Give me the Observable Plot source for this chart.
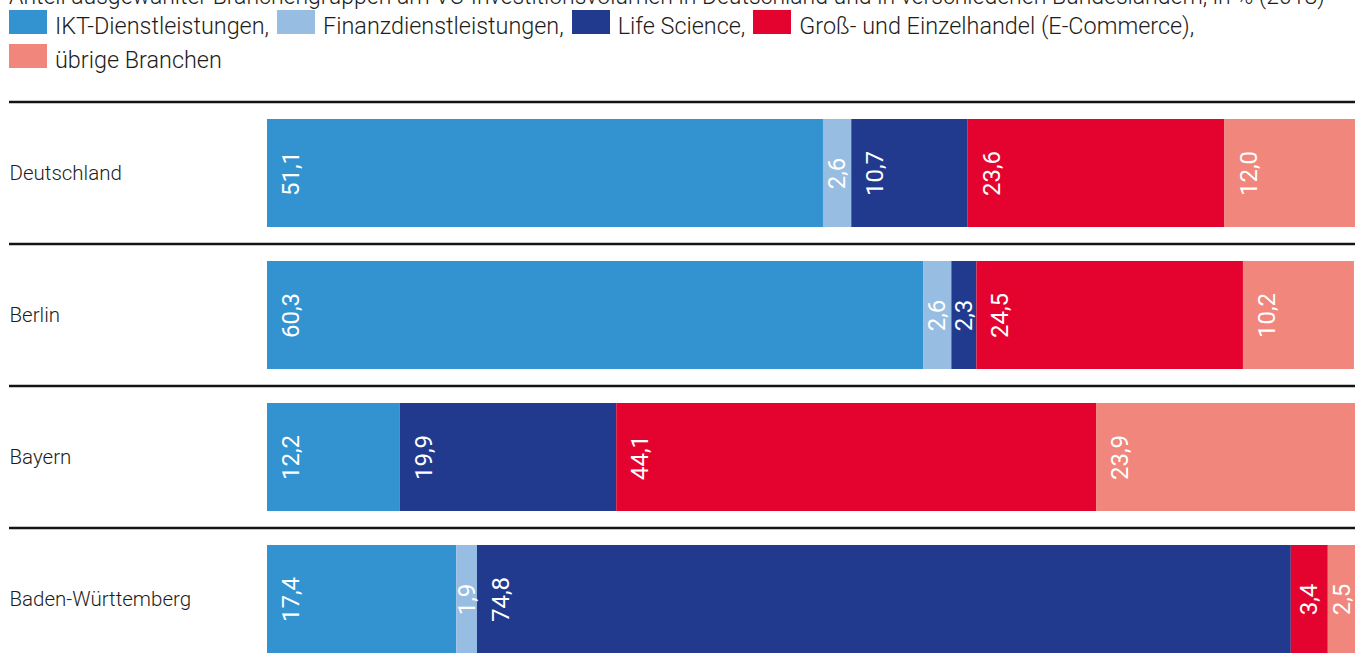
<!DOCTYPE html>
<html><head><meta charset="utf-8">
<script src="https://cdn.jsdelivr.net/npm/d3@7"></script>
<script src="https://cdn.jsdelivr.net/npm/@observablehq/plot@0.6"></script>
<style>
body{margin:0;width:1355px;height:664px;overflow:hidden;position:relative;font-family:Roboto,"Liberation Sans",sans-serif;font-weight:300;color:#1d1d1b;background:#fff}
#title{position:absolute;left:9px;top:-16px;font-size:23px;line-height:26px;white-space:nowrap}
.legrow{position:absolute;left:9px;display:flex;align-items:center;font-size:23.4px;line-height:24px;white-space:nowrap}
.item{display:flex;align-items:center;margin-right:8px}
.sw{width:38px;height:24px;margin-right:8px;flex:none}
.lt{position:relative;top:3.5px}
#chart{position:absolute;left:0;top:95px}
</style></head><body>
<div id="title"></div>
<div class="legrow" id="leg1" style="top:10px"></div>
<div class="legrow" id="leg2" style="top:44px"></div>
<div id="chart"></div>
<script>
const titleText = "Anteil ausgewählter Branchengruppen am VC-Investitionsvolumen in Deutschland und in verschiedenen Bundesländern, in % (2018)";
const rows = ["Deutschland", "Berlin", "Bayern", "Baden-Württemberg"];
const series = ["IKT-Dienstleistungen", "Finanzdienstleistungen", "Life Science", "Groß- und Einzelhandel (E-Commerce)", "übrige Branchen"];
const colors = ["#3392d0", "#98bde3", "#223a8e", "#e4032e", "#f0867c"];
const ikt = [51.1, 60.3, 12.2, 17.4];
const finanz = [2.6, 2.6, 0, 1.9];
const life = [10.7, 2.3, 19.9, 74.8];
const handel = [23.6, 24.5, 44.1, 3.4];
const uebrige = [12.0, 10.2, 23.9, 2.5];

const seriesValues = [ikt, finanz, life, handel, uebrige];
const data = [];
rows.forEach((row, i) => {
  let acc = 0;
  series.forEach((s, j) => {
    const v = seriesValues[j][i];
    if (v > 0) {
      data.push({row, series: s, value: v, x1: acc, x2: acc + v});
      acc += v;
    }
  });
});
const fmt = v => v.toFixed(1).replace(".", ",");

document.getElementById("title").textContent = titleText;
function legItem(k, last) {
  const d = document.createElement("div");
  d.className = "item";
  const sw = document.createElement("span");
  sw.className = "sw";
  sw.style.background = colors[k];
  const t = document.createElement("span");
  t.className = "lt";
  t.textContent = series[k] + (last ? "" : ",");
  d.append(sw, t);
  return d;
}
const l1 = document.getElementById("leg1");
for (let k = 0; k < 4; k++) l1.append(legItem(k, false));
document.getElementById("leg2").append(legItem(4, true));

const chart = Plot.plot({
  width: 1355,
  height: 569,
  marginLeft: 9,
  marginRight: 0,
  marginTop: 0,
  marginBottom: 0,
  style: {fontFamily: "Roboto, 'Liberation Sans', sans-serif", background: "#fff"},
  x: {domain: [0, 100], range: [267, 1355], axis: null},
  y: {domain: rows, range: [24, 558], paddingInner: 34 / 142, paddingOuter: 0, axis: null},
  color: {domain: series, range: colors},
  marks: [
    Plot.ruleY(rows, {y: d => d, stroke: "#141414", strokeWidth: 2.6, dy: -71.5}),
    Plot.barX(data, {x1: "x1", x2: "x2", y: "row", fill: "series"}),
    Plot.text(data, {
      x: d => d.x1 + Math.min(d.value / 2, 2.2),
      y: "row",
      text: d => fmt(d.value),
      rotate: -90,
      fill: "white",
      fontSize: 24,
      fontWeight: 400,
      textAnchor: "middle"
    }),
    Plot.text(rows, {y: d => d, text: d => d, frameAnchor: "left", textAnchor: "start", fontSize: 20.5, fontWeight: 300, fill: "#1d1d1b"})
  ]
});
document.getElementById("chart").append(chart);
</script>
</body></html>
